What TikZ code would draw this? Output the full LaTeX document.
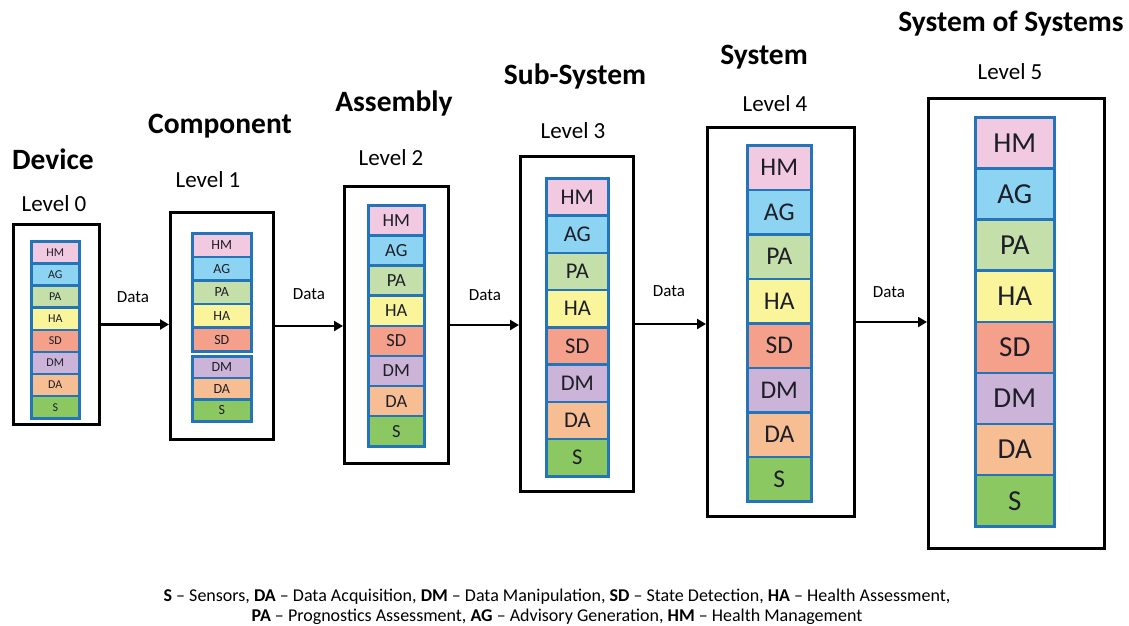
\documentclass[tikz,border=0pt]{standalone}
\usepackage{fontspec}
\setmainfont{Carlito}
\usetikzlibrary{arrows.meta}

% function colours
\definecolor{cHM}{RGB}{241,201,225}
\definecolor{cAG}{RGB}{140,212,242}
\definecolor{cPA}{RGB}{196,223,170}
\definecolor{cHA}{RGB}{250,245,155}
\definecolor{cSD}{RGB}{245,160,138}
\definecolor{cDM}{RGB}{203,180,216}
\definecolor{cDA}{RGB}{247,190,148}
\definecolor{cS}{RGB}{140,200,98}
\definecolor{cellblue}{RGB}{36,116,186}
\definecolor{celltext}{RGB}{30,30,40}

\tikzset{
  cell/.style={draw=cellblue, line width=2.6pt, inner sep=0pt, text=celltext, anchor=north west},
  levelbox/.style={draw=black, line width=3pt, inner sep=0pt, anchor=north west},
  flow/.style={draw=black, line width=2.4pt, -{Triangle[length=9pt,width=10pt]}},
  title/.style={font=\bfseries\fontsize{29.5}{32}\selectfont},
  lvl/.style={font=\fontsize{23}{26}\selectfont},
  datalbl/.style={font=\fontsize{17}{19}\selectfont},
}

% #1 level name, #2/#3 left/right x, #4/#5 top/bottom y, #6 font size,
% #7 macro holding label/colour pairs, #8 number of rows in the list
\newcommand\cellstack[8]{%
  \pgfmathsetmacro\cw{#3-#2}%
  \pgfmathsetmacro\ch{(#5-#4)/#8}%
  \foreach \lab/\col [count=\i from 0] in #7{%
    \node[cell, fill=\col, minimum width=\cw pt, minimum height=\ch pt,
          font=\fontsize{#6}{#6}\selectfont] (#1-\lab) at (#2, {#4+\i*\ch}) {\lab};
  }%
}
\newcommand\allfuncs{HM/cHM,AG/cAG,PA/cPA,HA/cHA,SD/cSD,DM/cDM,DA/cDA,S/cS}
\newcommand\upperfuncs{HM/cHM,AG/cAG,PA/cPA,HA/cHA,SD/cSD}
\newcommand\lowerfuncs{DM/cDM,DA/cDA,S/cS}

\begin{document}
\begin{tikzpicture}[x=1pt,y=-1pt]
  \fill[white] (0,0) rectangle (1129,625);
  \useasboundingbox (0,0) rectangle (1129,625);

  % level frames
  \node[levelbox, minimum width=86pt,  minimum height=200pt] (L0) at (12,223) {};
  \node[levelbox, minimum width=103pt, minimum height=227pt] (L1) at (169,211) {};
  \node[levelbox, minimum width=104pt, minimum height=277pt] (L2) at (343,185) {};
  \node[levelbox, minimum width=113pt, minimum height=335pt] (L3) at (519,155) {};
  \node[levelbox, minimum width=147pt, minimum height=389pt] (L4) at (706,126) {};
  \node[levelbox, minimum width=176pt, minimum height=450pt] (L5) at (927,97) {};

  % function stacks
  \cellstack{s0}{30}{78}{240}{417}{12}{\allfuncs}{8}
  \cellstack{s1}{191}{250}{232}{350}{14}{\upperfuncs}{5}
  \cellstack{s1}{191}{250}{355}{420}{14}{\lowerfuncs}{3}
  \cellstack{s2}{367}{423}{204}{445}{18.5}{\allfuncs}{8}
  \cellstack{s3}{545}{607}{177}{475}{22.5}{\allfuncs}{8}
  \cellstack{s4}{746}{810}{144}{500}{25.5}{\allfuncs}{8}
  \cellstack{s5}{974}{1053}{116}{525}{29}{\allfuncs}{8}

  % titles and levels
  \node[title] (t0) at (53,159) {Device};
  \node[lvl]   (v0) at (54,204) {Level 0};
  \node[title] (t1) at (220,126) {Component};
  \node[lvl]   (v1) at (208,180) {Level 1};
  \node[title] (t2) at (394,103) {Assembly};
  \node[lvl]   (v2) at (391,158) {Level 2};
  \node[title] (t3) at (575,76) {Sub-System};
  \node[lvl]   (v3) at (573,131) {Level 3};
  \node[title] (t4) at (764,57) {System};
  \node[lvl]   (v4) at (775,104) {Level 4};
  \node[title] (t5) at (1011,24) {System of Systems};
  \node[lvl]   (v5) at (1010,72) {Level 5};

  % data flow between levels
  \draw[flow] (L0.east) -- (L0.east -| L1.west);
  \draw[flow] (L1.east) -- (L1.east -| L2.west);
  \draw[flow] (L2.east) -- (L2.east -| L3.west);
  \draw[flow] (L3.east) -- (L3.east -| L4.west);
  \draw[flow] (L4.east) -- (L4.east -| L5.west);
  \node[datalbl] (d01) at (133,297) {Data};
  \node[datalbl] (d12) at (309,294) {Data};
  \node[datalbl] (d23) at (485,295) {Data};
  \node[datalbl] (d34) at (669,291) {Data};
  \node[datalbl] (d45) at (889,292) {Data};

  % legend
  \node[font=\fontsize{18}{20.5}\selectfont, align=center, inner sep=0pt] (legend) at (557,607)
    {\textbf{S} -- Sensors, \textbf{DA} -- Data Acquisition, \textbf{DM} -- Data Manipulation, \textbf{SD} -- State Detection, \textbf{HA} -- Health Assessment,\\
     \textbf{PA} -- Prognostics Assessment, \textbf{AG} -- Advisory Generation, \textbf{HM} -- Health Management};
\end{tikzpicture}
\end{document}
